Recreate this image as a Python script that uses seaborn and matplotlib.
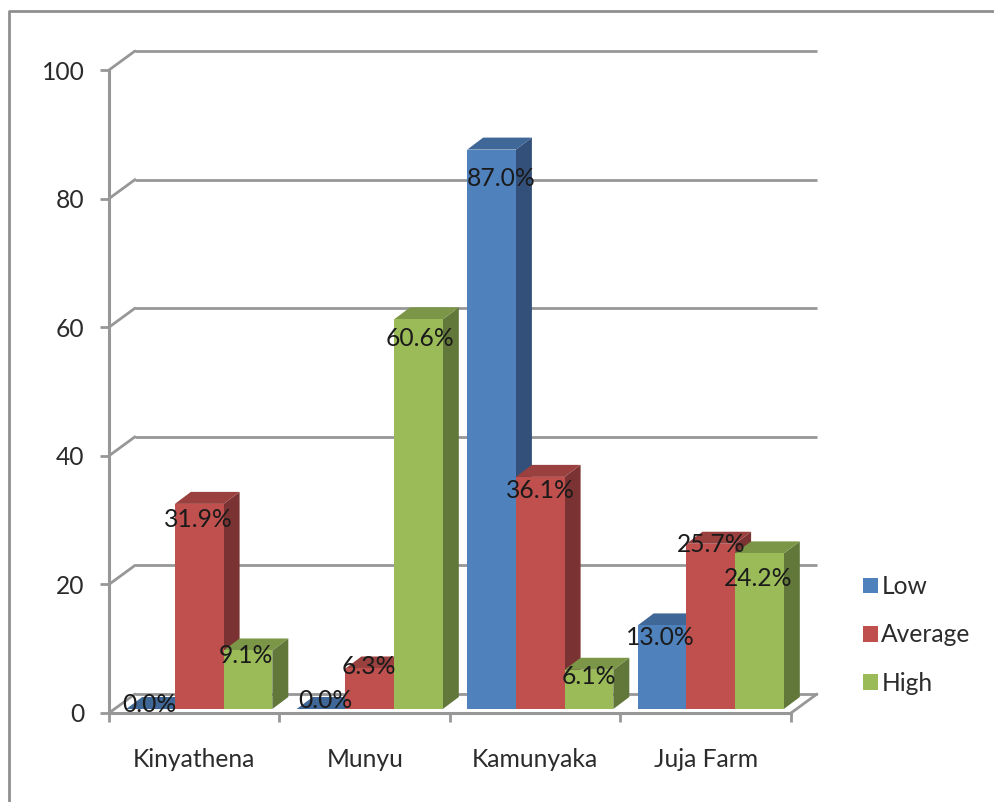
import matplotlib
matplotlib.use("Agg")
import matplotlib.pyplot as plt
import pandas as pd
import seaborn as sns
from matplotlib.lines import Line2D
from matplotlib.patches import Polygon
from matplotlib.transforms import Affine2D, IdentityTransform

# ─── Data ───────────────────────────────────────────────────────────────────────

sites = ["Kinyathena", "Munyu", "Kamunyaka", "Juja Farm"]
levels = ["Low", "Average", "High"]
low = [0.0, 0.0, 87.0, 13.0]
average = [31.9, 6.3, 36.1, 25.7]
high = [9.1, 60.6, 6.1, 24.2]
y_ticks = [0, 20, 40, 60, 80, 100]

# ─── Style ──────────────────────────────────────────────────────────────────────

palette = ["#4F81BD", "#C0504D", "#9BBB59"]
top_colors = ["#3F6797", "#9A403E", "#7C9647"]
side_colors = ["#325079", "#7A3332", "#62773A"]
GRID = "#979797"
FONT_SIZE = 17.7
W, H = 995, 802

# label nudges in pixels (from bar top centre), [site][level]
label_dx = [[-1, -1, -2], [4, -1, 2], [10, 0, 0], [-2, 0, -1]]
label_dy = [[-4, 16, 5], [-9, -2, 19], [29, 14, 7], [12, 1, 25]]

sns.set_style("white")
plt.rcParams["font.family"] = ["Lato", "DejaVu Sans"]

df = pd.DataFrame({
    "site": sites * 3,
    "level": [lv for lv in levels for _ in sites],
    "pct": low + average + high,
})

fig = plt.figure(figsize=(W / 100, H / 100), dpi=100)
ax = fig.add_axes([109 / W, (H - 713) / H, 682 / W, 643 / H])

sns.barplot(data=df, x="site", y="pct", hue="level", hue_order=levels, order=sites,
            palette=palette, saturation=1, width=0.857, gap=0, linewidth=0, ax=ax)

ax.set_xlim(-0.5, 3.5)
ax.set_ylim(0, 100)
ax.set_xlabel("")
ax.set_ylabel("")
ax.patch.set_alpha(0)

# ─── Walls, floor and axes ──────────────────────────────────────────────────────

back = ax.transData + Affine2D().translate(26, 19)
for v in y_ticks:
    x0, y0 = ax.transData.transform((-0.5, v))
    ax.plot([-0.5, 3.5], [v, v], color=GRID, lw=2, transform=back,
            clip_on=False, zorder=1, solid_capstyle="butt")
    ax.plot([x0, x0 + 26], [y0, y0 + 19], color=GRID, lw=2,
            transform=IdentityTransform(), clip_on=False, zorder=1)

# right edge of the floor
xr, yr = ax.transData.transform((3.5, 0))
ax.plot([xr, xr + 26], [yr, yr + 19], color=GRID, lw=2,
        transform=IdentityTransform(), clip_on=False, zorder=1)

sns.despine(ax=ax)
for side in ("left", "bottom"):
    ax.spines[side].set_color(GRID)
    ax.spines[side].set_linewidth(2.2)
    ax.spines[side].set_zorder(2)

ax.set_yticks(y_ticks)
ax.set_xticks([i - 0.5 for i in range(len(sites) + 1)], minor=True)
ax.tick_params(axis="y", length=6.5, width=2, color=GRID, pad=11, left=True,
               labelsize=FONT_SIZE, labelcolor="#2b2b2b")
ax.tick_params(axis="x", which="minor", length=6.5, width=2, color=GRID, bottom=True)
ax.tick_params(axis="x", which="major", length=0, pad=25, labelsize=FONT_SIZE,
               labelcolor="#2b2b2b")

# ─── 3D bars ────────────────────────────────────────────────────────────────────

shift = Affine2D().translate(5, 4)
DX, DY = 16, 12

for li, container in enumerate(ax.containers):
    for si, bar in enumerate(container):
        z = 3 + si + li * 0.1
        x = bar.get_x()
        w = bar.get_width()
        h = bar.get_height()
        (x0, y0), (x1, y1) = (ax.transData + shift).transform([(x, 0), (x + w, h)])
        bar.set_transform(ax.transData + shift)
        bar.set_clip_on(False)
        bar.set_zorder(z + 0.02)
        side = [(x1, y0), (x1 + DX, y0 + DY), (x1 + DX, y1 + DY), (x1, y1)]
        top = [(x0, y1), (x0 + DX, y1 + DY), (x1 + DX, y1 + DY), (x1, y1)]
        for verts, col in ((side, side_colors[li]), (top, top_colors[li])):
            ax.add_patch(Polygon(verts, closed=True, facecolor=col, edgecolor="none",
                                 transform=IdentityTransform(), clip_on=False, zorder=z))
        ax.annotate(f"{h:.1f}%", xy=((x0 + x1) / 2, y1), xycoords="figure pixels",
                    xytext=(label_dx[si][li] * 0.72, -label_dy[si][li] * 0.72),
                    textcoords="offset points", ha="center", va="center",
                    fontsize=FONT_SIZE, color="#1a1a1a", zorder=20, annotation_clip=False)

ax.set_xlim(-0.5, 3.5)
ax.set_ylim(0, 100)

# ─── Legend and outer frame ─────────────────────────────────────────────────────

ax.legend(title=None, frameon=False, loc="center left",
          bbox_to_anchor=(841 / W, (H - 635) / H), bbox_transform=fig.transFigure,
          fontsize=FONT_SIZE, handlelength=0.62, handleheight=0.62, handletextpad=0.12,
          labelspacing=1.03, labelcolor="#2b2b2b")

fig.add_artist(Line2D([9 / W, 9 / W, 1], [0, (H - 11) / H, (H - 11) / H],
                      color="#8f8f8f", lw=2))

fig.savefig("out.png", dpi=100)
